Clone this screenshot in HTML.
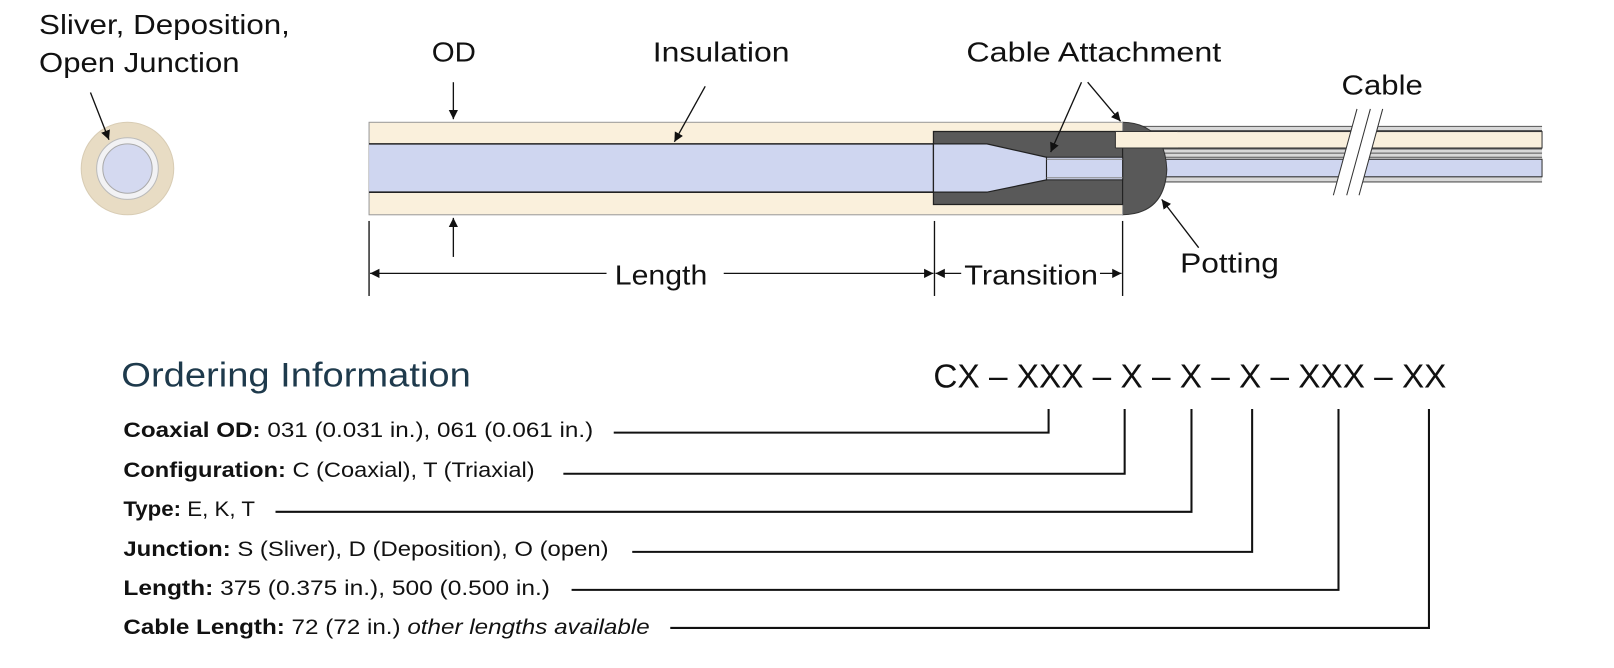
<!DOCTYPE html>
<html><head><meta charset="utf-8"><style>
html,body{margin:0;padding:0;background:#fff;}
svg{display:block;}
text{font-family:"Liberation Sans",sans-serif;}
</style></head><body>
<svg width="1614" height="668" viewBox="0 0 1570 650" preserveAspectRatio="none" xmlns="http://www.w3.org/2000/svg">
<defs>
<marker id="ah" viewBox="0 0 10 10" refX="10" refY="5" markerWidth="7" markerHeight="7" orient="auto-start-reverse"><path d="M0,0 L10,5 L0,10 z" fill="#111"/></marker>
</defs>
<text x="38" y="33" font-size="27" fill="#111" textLength="244" lengthAdjust="spacingAndGlyphs">Sliver, Deposition,</text>
<text x="38" y="70" font-size="27" fill="#111" textLength="195" lengthAdjust="spacingAndGlyphs">Open Junction</text>
<circle cx="124" cy="164" r="45" fill="#e8dcc4" stroke="#d8ccb4"/>
<circle cx="124" cy="164" r="30" fill="#f2f2f4" stroke="#bbb"/>
<circle cx="124" cy="164" r="24" fill="#d4d9f0" stroke="#aaa"/>
<line x1="88" y1="90" x2="106" y2="136" stroke="#111" stroke-width="1.3" marker-end="url(#ah)"/>

<rect x="1092" y="123" width="408" height="55" fill="#d8d8d8"/>
<g stroke="#555" stroke-width="1">
<line x1="1092" y1="123" x2="1500" y2="123"/>
<line x1="1092" y1="127" x2="1500" y2="127"/>
<line x1="1092" y1="145" x2="1500" y2="145"/>
<line x1="1092" y1="149" x2="1500" y2="149"/>
<line x1="1092" y1="153" x2="1500" y2="153"/>
<line x1="1092" y1="172" x2="1500" y2="172"/>
<line x1="1092" y1="177" x2="1500" y2="177"/>
</g>
<rect x="1085" y="128" width="415" height="16" fill="#faf0dc" stroke="#333" stroke-width="1"/>
<rect x="1018" y="155" width="482" height="17" fill="#cfd6f0" stroke="#333" stroke-width="1"/>
<path d="M1092,119 Q1133,120 1135,165 Q1133,208 1092,209 Z" fill="#595959" stroke="#333"/>
<rect x="359" y="119" width="733" height="90" fill="#faf0dc" stroke="#999" stroke-width="1"/>
<rect x="359" y="140" width="551" height="47" fill="#cfd6f0"/>
<line x1="359" y1="140" x2="910" y2="140" stroke="#222" stroke-width="1.5"/>
<line x1="359" y1="187" x2="910" y2="187" stroke="#222" stroke-width="1.5"/>
<path d="M908,128 L1092,128 L1092,199 L908,199 Z" fill="#595959" stroke="#222" stroke-width="1.2"/>
<path d="M908,140 L960,140 L1018,153 L1018,175 L960,187 L908,187 Z" fill="#cfd6f0" stroke="#222" stroke-width="1.2"/>
<rect x="1018" y="153" width="74" height="22" fill="#cfd6f0" stroke="#222" stroke-width="1"/>
<line x1="1018" y1="155" x2="1092" y2="155" stroke="#888"/>
<line x1="1018" y1="173" x2="1092" y2="173" stroke="#888"/>
<rect x="1085" y="128" width="60" height="16" fill="#faf0dc" stroke="none"/>
<line x1="1085" y1="128" x2="1145" y2="128" stroke="#333"/>
<line x1="1085" y1="144" x2="1145" y2="144" stroke="#333"/>
<line x1="1085" y1="128" x2="1085" y2="144" stroke="#333"/>
<polygon points="1320,106 1345,106 1322,190 1297,190" fill="#fff"/>
<line x1="1333" y1="106" x2="1310" y2="190" stroke="#333"/>
<line x1="1320" y1="106" x2="1297" y2="190" stroke="#333"/>
<line x1="1345" y1="106" x2="1322" y2="190" stroke="#333"/>

<g font-size="27" fill="#111" lengthAdjust="spacingAndGlyphs">
<text x="420" y="60" textLength="43" lengthAdjust="spacingAndGlyphs">OD</text>
<text x="635" y="60" textLength="133" lengthAdjust="spacingAndGlyphs">Insulation</text>
<text x="940" y="60" textLength="248" lengthAdjust="spacingAndGlyphs">Cable Attachment</text>
<text x="1305" y="92" textLength="79" lengthAdjust="spacingAndGlyphs">Cable</text>
<text x="1148" y="265" textLength="96" lengthAdjust="spacingAndGlyphs">Potting</text>
<text x="598" y="277" textLength="90" lengthAdjust="spacingAndGlyphs">Length</text>
<text x="938" y="277" textLength="130" lengthAdjust="spacingAndGlyphs">Transition</text>
</g>
<g stroke="#111" stroke-width="1.3" fill="none">
<line x1="441" y1="80" x2="441" y2="116" marker-end="url(#ah)"/>
<line x1="441" y1="250" x2="441" y2="212" marker-end="url(#ah)"/>
<line x1="686" y1="84" x2="656" y2="138" marker-end="url(#ah)"/>
<line x1="1052" y1="80" x2="1022" y2="148" marker-end="url(#ah)"/>
<line x1="1058" y1="80" x2="1090" y2="118" marker-end="url(#ah)"/>
<line x1="1166" y1="241" x2="1130" y2="194" marker-end="url(#ah)"/>
<line x1="359" y1="215" x2="359" y2="288"/>
<line x1="909" y1="215" x2="909" y2="288"/>
<line x1="1092" y1="215" x2="1092" y2="288"/>
<line x1="590" y1="266" x2="360" y2="266" marker-end="url(#ah)"/>
<line x1="704" y1="266" x2="908" y2="266" marker-end="url(#ah)"/>
<line x1="935" y1="266" x2="910" y2="266" marker-end="url(#ah)"/>
<line x1="1070" y1="266" x2="1091" y2="266" marker-end="url(#ah)"/>
</g>

<text x="118" y="376" font-size="33" fill="#1e3a4c" textLength="340" lengthAdjust="spacingAndGlyphs">Ordering Information</text>
<text x="908" y="377" font-size="32" fill="#111" textLength="499" lengthAdjust="spacingAndGlyphs">CX – XXX – X – X – X – XXX – XX</text>
<g font-size="21" fill="#111">
<text x="120" y="425" textLength="457" lengthAdjust="spacingAndGlyphs"><tspan font-weight="bold">Coaxial OD:</tspan> 031 (0.031 in.), 061 (0.061 in.)</text>
<text x="120" y="464" textLength="400" lengthAdjust="spacingAndGlyphs"><tspan font-weight="bold">Configuration:</tspan> C (Coaxial), T (Triaxial)</text>
<text x="120" y="502" textLength="128" lengthAdjust="spacingAndGlyphs"><tspan font-weight="bold">Type:</tspan> E, K, T</text>
<text x="120" y="541" textLength="472" lengthAdjust="spacingAndGlyphs"><tspan font-weight="bold">Junction:</tspan> S (Sliver), D (Deposition), O (open)</text>
<text x="120" y="579" textLength="415" lengthAdjust="spacingAndGlyphs"><tspan font-weight="bold">Length:</tspan> 375 (0.375 in.), 500 (0.500 in.)</text>
<text x="120" y="617" textLength="512" lengthAdjust="spacingAndGlyphs"><tspan font-weight="bold">Cable Length:</tspan> 72 (72 in.) <tspan font-style="italic">other lengths available</tspan></text>
</g>
<g stroke="#111" stroke-width="2" fill="none">
<polyline points="597,421 1020,421 1020,398"/>
<polyline points="548,461 1094,461 1094,398"/>
<polyline points="268,498 1159,498 1159,398"/>
<polyline points="615,537 1218,537 1218,398"/>
<polyline points="556,574 1302,574 1302,398"/>
<polyline points="652,611 1390,611 1390,398"/>
</g>
</svg>
</body></html>
